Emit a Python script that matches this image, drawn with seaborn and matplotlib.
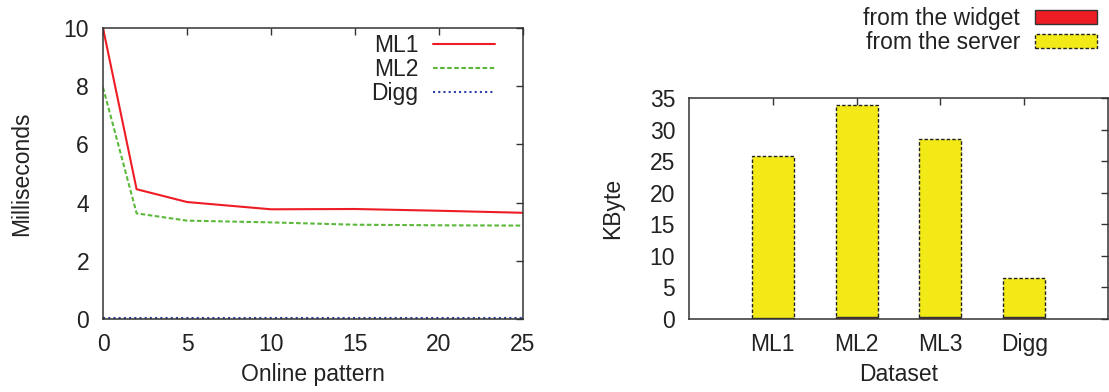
import numpy as np
import pandas as pd
import matplotlib
matplotlib.use("Agg")
import matplotlib.pyplot as plt
import seaborn as sns

# left chart: response time vs online pattern
pattern = [0, 2, 5, 10, 15, 20, 25]
ml1_ms = [10.0, 4.46, 4.02, 3.77, 3.78, 3.72, 3.65]
ml2_ms = [7.96, 3.63, 3.38, 3.32, 3.24, 3.22, 3.21]
digg_ms = [0.02, 0.02, 0.02, 0.02, 0.02, 0.02, 0.02]

# right chart: transferred data per dataset
datasets = ["ML1", "ML2", "ML3", "Digg"]
from_widget = [0.15, 0.3, 0.3, 0.35]
from_server = [25.6, 33.6, 28.25, 6.1]

sns.set_theme(style="white")
plt.rcParams["font.family"] = ["Liberation Sans", "DejaVu Sans"]
plt.rcParams["text.color"] = "#222222"
plt.rcParams["axes.labelcolor"] = "#222222"
plt.rcParams["xtick.color"] = "#333333"
plt.rcParams["ytick.color"] = "#333333"
plt.rcParams["xtick.labelcolor"] = "#222222"
plt.rcParams["ytick.labelcolor"] = "#222222"

FS = 16.5
W, H = 1109, 392
fig = plt.figure(figsize=(W / 100, H / 100), dpi=100)
ax1 = fig.add_axes([103 / W, 1 - 319 / H, 420 / W, 291 / H])
ax2 = fig.add_axes([689 / W, 1 - 319 / H, 419 / W, 221 / H])

long = pd.DataFrame({
    "pattern": pattern * 3,
    "ms": ml1_ms + ml2_ms + digg_ms,
    "series": ["ML1"] * len(pattern) + ["ML2"] * len(pattern) + ["Digg"] * len(pattern),
})
sns.lineplot(data=long, x="pattern", y="ms", hue="series", style="series",
             palette={"ML1": "#ee1c25", "ML2": "#5cb83a", "Digg": "#2a3fa8"},
             dashes={"ML1": "", "ML2": (2.2, 1.2), "Digg": (1, 1.5)},
             linewidth=1.5, ax=ax1)
ax1.set_xlim(0, 25)
ax1.set_ylim(0, 10)
ax1.set_xticks([0, 5, 10, 15, 20, 25])
ax1.set_yticks([0, 2, 4, 6, 8, 10])
ax1.set_xlabel("Online pattern", fontsize=FS, labelpad=5)
ax1.set_ylabel("Milliseconds", fontsize=FS, labelpad=22)
ax1.legend(loc="upper right", bbox_to_anchor=(495 / W, 1 - 34 / H),
           bbox_transform=fig.transFigure, frameon=False, markerfirst=False,
           fontsize=FS, handlelength=2.7, handletextpad=0.65,
           labelspacing=0.05, borderpad=0, borderaxespad=0)

totals = [w + s for w, s in zip(from_widget, from_server)]
bars = pd.DataFrame({"dataset": datasets, "total": totals, "widget": from_widget})
sns.barplot(data=bars, x="dataset", y="total", color="#f2e916", width=0.5,
            edgecolor="#222222", linewidth=1.0, linestyle=(0, (2.5, 1.5)),
            saturation=1, label="from the server", ax=ax2)
sns.barplot(data=bars, x="dataset", y="widget", color="#ee1c25", width=0.5,
            edgecolor="#333333", linewidth=1.0, saturation=1,
            label="from the widget", ax=ax2)
ax2.set_xlim(-1, 4)
ax2.set_ylim(0, 35)
ax2.set_yticks(range(0, 36, 5))
ax2.set_xlabel("Dataset", fontsize=FS, labelpad=5)
ax2.set_ylabel("KByte", fontsize=FS, labelpad=18)
handles, labels = ax2.get_legend_handles_labels()
order = [labels.index("from the widget"), labels.index("from the server")]
ax2.legend([handles[i] for i in order], [labels[i] for i in order],
           loc="upper right", bbox_to_anchor=(1097 / W, 1 - 7 / H),
           bbox_transform=fig.transFigure, frameon=False, markerfirst=False,
           fontsize=FS, handlelength=2.7, handleheight=0.55, handletextpad=0.65,
           labelspacing=0.05, borderpad=0, borderaxespad=0)

for ax in (ax1, ax2):
    ax.tick_params(direction="in", length=5, width=1, top=True, right=True,
                   labelsize=FS, pad=10)
    for sp in ax.spines.values():
        sp.set_visible(True)
        sp.set_color("#333333")
        sp.set_linewidth(1.1)

fig.savefig("out.png", dpi=100)
